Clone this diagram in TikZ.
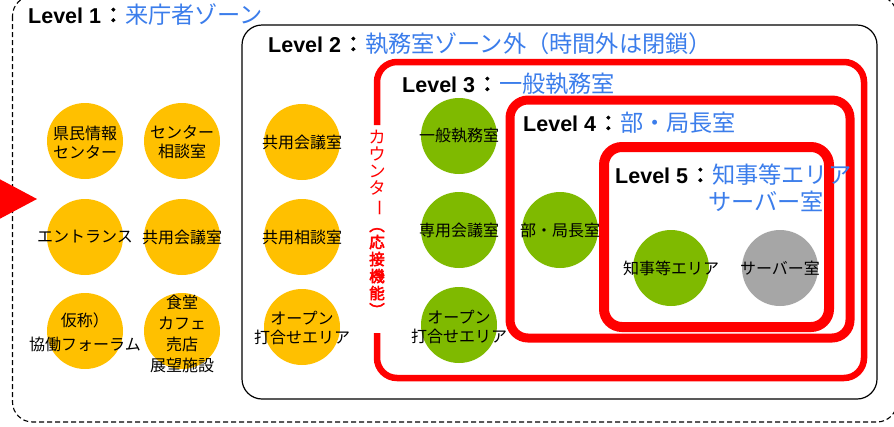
\documentclass[tikz,border=0pt]{standalone}
\usepackage{fontspec}
\setmainfont{Liberation Sans}
\newfontfamily\cjk[AutoFakeBold=3.5]{Noto Sans CJK JP}
\definecolor{lvblue}{RGB}{59,125,235}
\definecolor{orng}{RGB}{255,192,0}
\definecolor{grn}{RGB}{127,186,0}
\definecolor{gry}{RGB}{166,166,166}
\newcommand{\lvtitle}[2]{{\bfseries Level #1}\hspace{1.5pt}{\cjk\bfseries ：}\hspace{1pt}\textcolor{lvblue}{\cjk\fontsize{23.2}{26}\selectfont #2}}
\newcommand{\bch}[1]{{\fontsize{15.5}{17}\selectfont\textbf{#1}}}
\begin{document}
\begin{tikzpicture}[x=1pt,y=-1pt,
 spot/.style={circle,minimum size=76pt,inner sep=0pt},
 ospot/.style={spot,fill=orng},
 gspot/.style={spot,fill=grn},
 yspot/.style={spot,fill=gry},
 lbl/.style={font=\cjk\fontsize{16}{19.5}\selectfont, align=center, inner sep=0pt},
 lvtitle/.style={anchor=base west, inner sep=0pt, font=\fontsize{21.5}{24}\selectfont},
]
\useasboundingbox (0,0) rectangle (894,426);
\clip (0,0) rectangle (894,426);
\fill[white] (0,0) rectangle (894,426);
% Level 1
\draw[dash pattern=on 5pt off 3pt, line width=1.1pt, rounded corners=20pt] (12.5,-4) rectangle (897,422);
% Level 2
\draw[line width=1.2pt, rounded corners=20pt] (242,25) rectangle (877,399);
% Level 3 (gap for counter text)
\draw[red, line width=6.5pt, rounded corners=20pt] (377,333) -- (377,378) -- (864,378) -- (864,62) -- (377,62) -- (377,125);
% Level 4
\draw[red, line width=9pt, rounded corners=18pt] (510,100) rectangle (850,338);
% Level 5
\draw[red, line width=10pt, rounded corners=18pt] (604,147) rectangle (829,327);
% entrance arrow
\fill[red] (-10,174) -- (37,199) -- (-10,224) -- cycle;

% titles
\node[lvtitle] (t1) at (28,23) {\lvtitle{1}{来庁者ゾーン}};
\node[lvtitle] (t2) at (268,52) {\lvtitle{2}{執務室ゾーン外（時間外は閉鎖）}};
\node[lvtitle] (t3) at (402,92) {\lvtitle{3}{一般執務室}};
\node[lvtitle] (t4) at (523,131) {\lvtitle{4}{部・局長室}};
\node[lvtitle] (t5) at (615,183) {\lvtitle{5}{知事等エリア}};
\node[lvtitle, anchor=base east] (t5b) at (824,210) {\textcolor{lvblue}{\cjk\fontsize{23.2}{26}\selectfont サーバー室}};

% counter vertical text
\node[font=\cjk\fontsize{17}{17}\selectfont, text=red, align=center, inner sep=0pt] (counter) at (377,224)
 {カ\\ウ\\ン\\タ\\\rotatebox[origin=c]{-90}{ー}\\\rotatebox[origin=c]{-90}{\bch{（}}\\\bch{応}\\\bch{接}\\\bch{機}\\\bch{能}\\\rotatebox[origin=c]{-90}{\bch{）}}};

% Level 1 circles
\node[ospot] (a1) at (85,141) {};
\node[ospot] (a2) at (85,237) {};
\node[ospot] (a3) at (85,331) {};
\node[ospot] (b1) at (182,141) {};
\node[ospot] (b2) at (182,237) {};
\node[ospot] (b3) at (182,331) {};
\node[lbl] at (85,142.5) {県民情報\\センター};
\node[lbl] at (85,237) {エントランス};
\node[lbl] at (85,332.5) {仮称）\\[5pt]協働フォーラム};
\node[lbl] at (182,142) {センター\\相談室};
\node[lbl] at (182,237) {共用会議室};
\node[lbl, font=\cjk\fontsize{16}{21}\selectfont] at (182,333.5) {食堂\\カフェ\\売店\\展望施設};

% Level 2 circles
\node[ospot] (c1) at (302,142) {};
\node[ospot] (c2) at (302,237) {};
\node[ospot] (c3) at (302,327) {};
\node[lbl] at (c1) {共用会議室};
\node[lbl] at (c2) {共用相談室};
\node[lbl] at (302,328) {オープン\\打合せエリア};

% Level 3 circles
\node[gspot] (d1) at (459,136) {};
\node[gspot] (d2) at (459,230) {};
\node[gspot] (d3) at (459,325) {};
\node[lbl] at (d1) {一般執務室};
\node[lbl] at (d2) {専用会議室};
\node[lbl] at (459,327) {オープン\\打合せエリア};

% Level 4 circle
\node[gspot] (e1) at (560,230) {};
\node[lbl] at (e1) {部・局長室};

% Level 5 circles
\node[gspot] (f1) at (671,268) {};
\node[yspot] (f2) at (780,268) {};
\node[lbl] at (f1) {知事等エリア};
\node[lbl] at (f2) {サーバー室};
\end{tikzpicture}
\end{document}
